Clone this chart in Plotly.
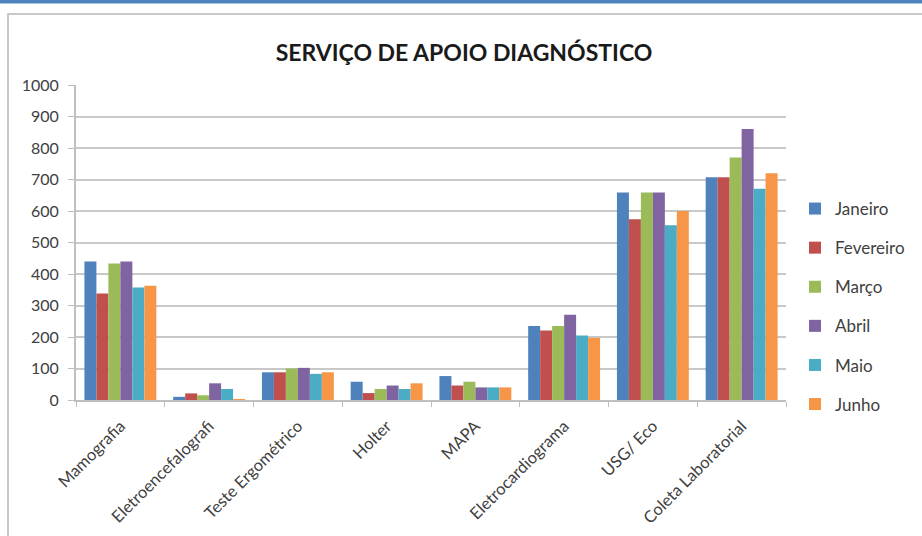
import plotly.graph_objects as go

categories = ["Mamografia", "Eletroencefalografi", "Teste Ergométrico", "Holter",
              "MAPA", "Eletrocardiograma", "USG/ Eco", "Coleta Laboratorial"]
months = ["Janeiro", "Fevereiro", "Março", "Abril", "Maio", "Junho"]

janeiro = [440, 10, 88, 58, 76, 235, 659, 707]
fevereiro = [338, 21, 88, 22, 46, 221, 574, 707]
marco = [433, 15, 100, 35, 58, 235, 659, 770]
abril = [440, 53, 102, 46, 40, 271, 659, 860]
maio = [357, 35, 83, 35, 40, 205, 555, 671]
junho = [363, 2, 88, 53, 40, 197, 600, 720]

series = [janeiro, fevereiro, marco, abril, maio, junho]
colors = ["#4F81BD", "#C0504D", "#9BBB59", "#8064A2", "#4BACC6", "#F79646"]
y_ticks = [0, 100, 200, 300, 400, 500, 600, 700, 800, 900, 1000]

FONT = "Lato"

fig = go.Figure()
for name, vals, col in zip(months, series, colors):
    fig.add_trace(go.Bar(name=name, x=categories, y=vals, marker_color=col,
                         marker_line_width=0, legendgroup=name))

L, R, T, B = 76, 136, 85, 136
W, H = 922, 536
pw, ph = W - L - R, H - T - B

def px_x(x):
    return (x - L) / pw

def px_y(y):
    return (H - B - y) / ph

fig.update_layout(
    width=W, height=H,
    margin=dict(l=L, r=R, t=T, b=B, autoexpand=False),
    paper_bgcolor="white", plot_bgcolor="white",
    barmode="group", bargap=0.19, bargroupgap=0,
    font=dict(family=FONT, size=16, color="#404040"),
    title=dict(text="<b>SERVIÇO DE APOIO DIAGNÓSTICO</b>", x=(464 - L) / pw, xref="paper",
               xanchor="center", y=1 - 53 / H, yanchor="middle",
               font=dict(family=FONT, size=23, color="#1a1a1a")),
    legend=dict(x=px_x(795), y=px_y(191), xanchor="left", yanchor="top",
                tracegroupgap=14, font=dict(size=17, color="#404040"),
                itemwidth=30, bgcolor="rgba(0,0,0,0)"),
    xaxis=dict(type="category", tickangle=-45, tickson="boundaries",
               ticks="outside", ticklen=5, tickcolor="#BFBFBF",
               showline=True, linecolor="#BFBFBF", linewidth=2,
               ticklabelstandoff=8,
               showgrid=False, tickfont=dict(size=16.5, color="#404040")),
    yaxis=dict(range=[0, 1000], tickvals=y_ticks, ticks="outside", ticklen=6,
               tickcolor="#BFBFBF", showline=True, linecolor="#BFBFBF",
               linewidth=2, gridcolor="#C8C8C8", gridwidth=2,
               ticklabelstandoff=6,
               zeroline=False, tickfont=dict(size=16, color="#404040")),
    shapes=[
        dict(type="rect", xref="paper", yref="paper",
             x0=px_x(8), x1=px_x(930), y0=px_y(545), y1=px_y(14),
             line=dict(color="#C8C8C8", width=2), fillcolor="rgba(0,0,0,0)",
             layer="below"),
        dict(type="rect", xref="paper", yref="paper",
             x0=px_x(-5), x1=px_x(930), y0=px_y(3.5), y1=px_y(-5),
             line=dict(width=0), fillcolor="#4F81BD"),
    ],
)

fig.write_html("out.html", config={"displayModeBar": False},
               post_script="document.body.style.margin='0px';")
